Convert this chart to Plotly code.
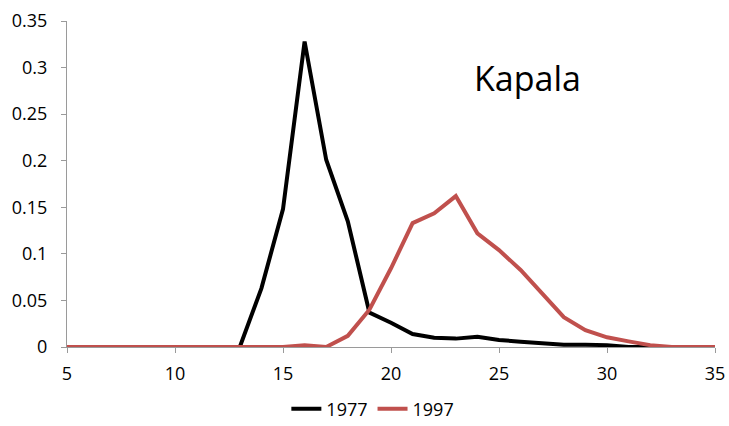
import plotly.graph_objects as go

# Length classes (x) and proportion of catch for each survey year
lengths = list(range(5, 36))

prop_1977 = [0, 0, 0, 0, 0, 0, 0, 0, 0,
             0.063, 0.148, 0.328, 0.201, 0.135,
             0.037, 0.026, 0.014, 0.010, 0.009, 0.011, 0.0075, 0.0057,
             0.004, 0.0025, 0.0025, 0.002, 0, 0, 0, 0, 0]

prop_1997 = [0, 0, 0, 0, 0, 0, 0, 0, 0, 0, 0, 0.002, 0, 0.012, 0.040,
             0.0845, 0.133, 0.1436, 0.162, 0.122, 0.104, 0.0827, 0.0577,
             0.032, 0.018, 0.0104, 0.006, 0.002, 0, 0, 0]

series = [("1977", prop_1977, "#000000"), ("1997", prop_1997, "#C0504D")]

fig = go.Figure()
for name, vals, color in series:
    fig.add_trace(go.Scatter(x=lengths, y=vals, mode="lines", name=name,
                             line=dict(color=color, width=4)))

axis_style = dict(showgrid=False, zeroline=False, showline=True,
                  linecolor="#9a9a9a", linewidth=1, ticks="outside",
                  tickcolor="#9a9a9a", ticklen=5, automargin=False,
                  tickfont=dict(size=18, color="#000000"))

fig.update_xaxes(range=[5, 35], tick0=5, dtick=5, ticklabelstandoff=5,
                 **axis_style)
fig.update_yaxes(range=[0, 0.35], tick0=0, dtick=0.05, tickformat="~g",
                 ticklabelstandoff=10, **axis_style)

fig.add_annotation(text="Kapala", x=0.711, y=0.825, xref="paper", yref="paper",
                   showarrow=False, font=dict(size=34, color="#000000"),
                   xanchor="center", yanchor="middle")

fig.update_layout(
    width=729, height=426,
    margin=dict(l=67, r=14, t=21, b=79, autoexpand=False),
    paper_bgcolor="white", plot_bgcolor="white",
    font=dict(family="Open Sans, sans-serif", color="#000000"),
    legend=dict(orientation="h", x=0.472, xanchor="center",
                yref="container", y=0.04, yanchor="middle",
                font=dict(size=18)),
)

fig.write_html("out.html")
